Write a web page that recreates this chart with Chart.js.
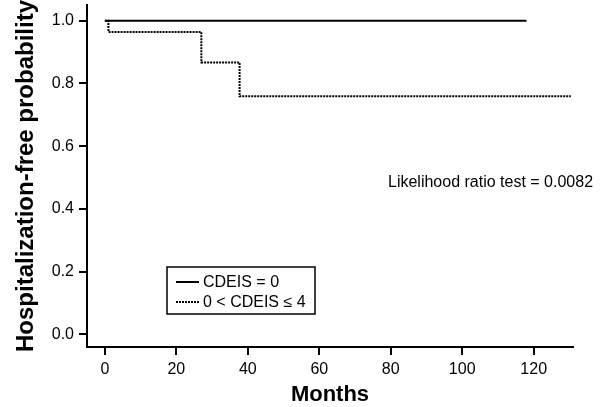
<!DOCTYPE html>
<html>
<head>
<meta charset="utf-8">
<script src="https://cdn.jsdelivr.net/npm/chart.js@4/dist/chart.umd.min.js"></script>
<style>
html,body{margin:0;padding:0;background:#fff;}
#wrap{width:603px;height:407px;}
</style>
</head>
<body>
<div id="wrap"><canvas id="c" width="603" height="407"></canvas></div>
<script>
// Data
const seriesLabels = ["CDEIS = 0", "0 < CDEIS \u2264 4"];
const monthsSolid = [0, 118];
const probSolid = [1.0, 1.0];
const monthsDotted = [0, 1.0, 27.0, 37.7, 130.4];
const probDotted = [1.0, 0.964, 0.867, 0.759, 0.759];
const xTicks = [0, 20, 40, 60, 80, 100, 120];
const yTicks = [0.0, 0.2, 0.4, 0.6, 0.8, 1.0];
const annotationText = "Likelihood ratio test = 0.0082";
const xTitle = "Months";
const yTitle = "Hospitalization-free probability";

const FONT = "'Liberation Sans', Arial, Helvetica, sans-serif";

const toPts = (xs, ys) => xs.map((x, i) => ({x: x, y: ys[i]}));

const overlay = {
  id: 'overlay',
  afterDraw(chart) {
    const ctx = chart.ctx;
    ctx.save();
    // annotation
    ctx.font = "16px " + FONT;
    ctx.fillStyle = "#000";
    ctx.textBaseline = "middle";
    ctx.textAlign = "left";
    ctx.fillText(annotationText, 388, 183);
    // legend box
    ctx.lineWidth = 1.5;
    ctx.strokeStyle = "#000";
    ctx.strokeRect(167, 267, 148, 47);
    const rows = [282, 302];
    chart.data.datasets.forEach((ds, i) => {
      const y = rows[i];
      ctx.beginPath();
      ctx.setLineDash(ds.borderDash || []);
      ctx.lineWidth = ds.borderWidth;
      ctx.strokeStyle = ds.borderColor;
      ctx.moveTo(176, y);
      ctx.lineTo(199, y);
      ctx.stroke();
      ctx.setLineDash([]);
      ctx.fillStyle = "#000";
      ctx.fillText(ds.label, 203, y + 1);
    });
    ctx.restore();
  }
};

new Chart(document.getElementById('c'), {
  type: 'line',
  data: {
    datasets: [
      {
        label: seriesLabels[0],
        data: toPts(monthsSolid, probSolid),
        borderColor: '#000',
        borderWidth: 2,
        pointRadius: 0,
        stepped: 'before',
        fill: false
      },
      {
        label: seriesLabels[1],
        data: toPts(monthsDotted, probDotted),
        borderColor: '#000',
        borderWidth: 2,
        borderDash: [2, 1],
        pointRadius: 0,
        stepped: 'before',
        fill: false
      }
    ]
  },
  options: {
    responsive: false,
    animation: false,
    devicePixelRatio: 1,
    layout: {padding: {left: 0, right: 30, top: 5, bottom: 0}},
    plugins: {legend: {display: false}, tooltip: {enabled: false}},
    scales: {
      x: {
        type: 'linear',
        min: -5,
        max: 131,
        afterFit: (s) => { s.height = 60; s.paddingLeft = 0; s.paddingRight = 0; },
        afterBuildTicks: (s) => { s.ticks = xTicks.map(v => ({value: v})); },
        border: {display: true, color: '#000', width: 2},
        grid: {display: true, drawOnChartArea: false, drawTicks: true, tickLength: 8, tickColor: '#000', lineWidth: 2},
        ticks: {color: '#000', padding: 5, maxRotation: 0, font: {family: FONT, size: 16}, callback: (v) => String(v)},
        title: {display: true, text: xTitle, color: '#000', font: {family: FONT, size: 22, weight: 'bold'}, padding: {top: 0, bottom: -1}}
      },
      y: {
        type: 'linear',
        min: -0.04,
        max: 1.05,
        afterFit: (s) => { s.width = 87; s.paddingTop = 0; s.paddingBottom = 0; },
        afterBuildTicks: (s) => { s.ticks = yTicks.map(v => ({value: v})); },
        border: {display: true, color: '#000', width: 2},
        grid: {display: true, drawOnChartArea: false, drawTicks: true, tickLength: 8, tickColor: '#000', lineWidth: 2},
        ticks: {color: '#000', padding: 5, font: {family: FONT, size: 16}, callback: (v) => Number(v).toFixed(1)},
        title: {display: true, text: yTitle, color: '#000', font: {family: FONT, size: 24, weight: 'bold'}, padding: {top: 12, bottom: 0}}
      }
    }
  },
  plugins: [overlay]
});
</script>
</body>
</html>
